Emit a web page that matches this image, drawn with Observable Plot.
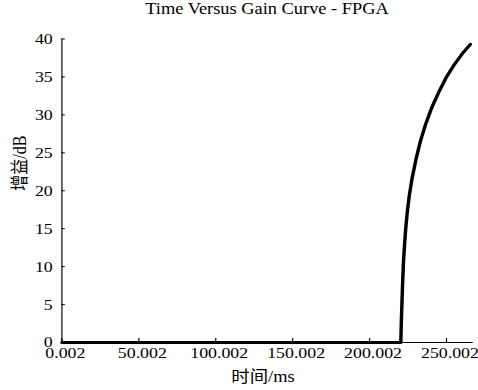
<!DOCTYPE html>
<html>
<head>
<meta charset="utf-8">
<script src="https://cdn.jsdelivr.net/npm/d3@7"></script>
<script src="https://cdn.jsdelivr.net/npm/@observablehq/plot@0.6"></script>
<style>
  html, body { margin: 0; padding: 0; background: #fff; }
  #wrap { width: 416px; transform: scaleX(1.149); transform-origin: 0 0; }
  #title { height: 30px; line-height: 30px; font: 16px "Liberation Serif", "Times New Roman", serif; color: #000;
           text-align: center; padding-left: 53.4px; padding-right: 4.6px; box-sizing: border-box; white-space: nowrap; }
  #chart svg text { font-family: "Liberation Serif", "Times New Roman", "Noto Sans CJK SC", serif !important; }
</style>
</head>
<body>
<div id="wrap">
  <div id="title">Time Versus Gain Curve - FPGA</div>
  <div id="chart"></div>
</div>
<script>
const titleText = "Time Versus Gain Curve - FPGA";
const xLabel = "时间/ms";
const yLabel = "增益/dB";

const timeMs = [0.002, 220.3, 220.6, 221.0, 221.5, 222.0, 222.6, 223.4, 224.4, 225.7, 227.5, 230, 233, 236.5, 240.5, 245, 250, 255, 260, 265.5];
const gainDb = [0, 0, 2.5, 5, 8, 10.5, 12.5, 14.8, 17, 19.2, 21.5, 24, 26.5, 28.8, 31, 33, 35, 36.6, 38, 39.3];

const xTicks = [0.002, 50.002, 100.002, 150.002, 200.002, 250.002];
const xTickLabels = ["0.002", "50.002", "100.002", "150.002", "200.002", "250.002"];
const yTicks = [0, 5, 10, 15, 20, 25, 30, 35, 40];
const yTickLabels = ["0", "5", "10", "15", "20", "25", "30", "35", "40"];

document.getElementById("title").textContent = titleText;

const data = timeMs.map((t, i) => ({t, g: gainDb[i]}));

const W = 416, H = 360, mL = 53.4, mR = 4.6, mT = 8.5, mB = 48;
const plotW = W - mL - mR, plotH = H - mT - mB;
const serif = "'Liberation Serif', 'Times New Roman', 'Noto Sans CJK SC', serif";

const chart = Plot.plot({
  width: W,
  height: H,
  marginLeft: mL,
  marginRight: mR,
  marginTop: mT,
  marginBottom: mB,
  style: {fontFamily: serif, fontSize: "15.5px", background: "#fff", color: "#000"},
  x: {domain: [0.002, 267.4], axis: null},
  y: {domain: [0, 40], axis: null},
  marks: [
    Plot.ruleX([0.002], {stroke: "#000", strokeWidth: 1}),
    Plot.ruleY([0], {stroke: "#000", strokeWidth: 1}),
    Plot.tickX(xTicks, {x: d => d, insetTop: plotH - 4, stroke: "#000"}),
    Plot.tickY(yTicks, {y: d => d, insetRight: plotW - 3, stroke: "#000"}),
    Plot.line(data, {x: "t", y: "g", stroke: "#000", strokeWidth: 3, strokeLinejoin: "round"}),
    Plot.axisX({ticks: xTicks, tickFormat: d => xTickLabels[xTicks.indexOf(d)], tickSize: 0, tickPadding: 4, dx: 3, label: null, fill: "#000", fontFamily: serif, fontVariant: "normal"}),
    Plot.axisY({ticks: yTicks, tickFormat: d => yTickLabels[yTicks.indexOf(d)], tickSize: 0, tickPadding: 8, label: null, fill: "#000", fontFamily: serif, fontVariant: "normal"}),
    Plot.text([xLabel], {text: d => d, frameAnchor: "bottom", dy: 39, dx: -4, fontSize: 16, fill: "#000", fontFamily: serif}),
    Plot.text([yLabel], {text: d => d, frameAnchor: "left", rotate: -90, dx: -36, fontSize: 16, fill: "#000", fontFamily: serif})
  ]
});
document.getElementById("chart").appendChild(chart);
</script>
</body>
</html>
